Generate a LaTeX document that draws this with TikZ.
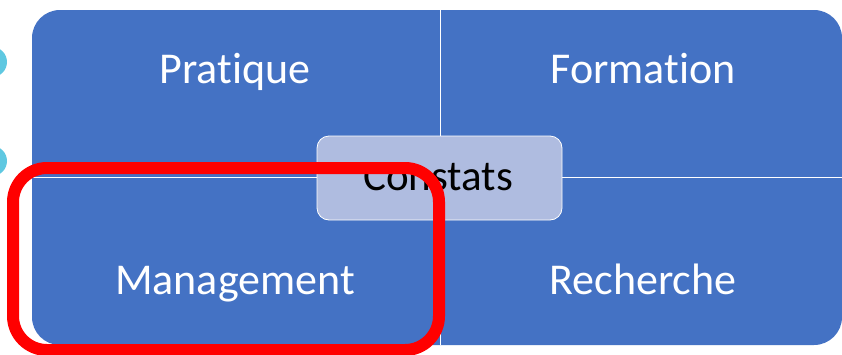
\documentclass[tikz,border=0pt]{standalone}
\usepackage{fontspec}
\setmainfont{Carlito}[Ligatures={NoCommon,NoRequired,NoContextual}]
\usepackage{xcolor}
\usetikzlibrary{positioning}
\definecolor{QuadBlue}{RGB}{68, 114, 196}
\definecolor{HubBlue}{RGB}{175, 188, 224}
\definecolor{MarkRed}{RGB}{255, 0, 0}
\definecolor{DotCyan}{RGB}{95, 200, 225}

\begin{document}
\begin{tikzpicture}[
    x=1pt, y=-1pt,
    grid/.style = {
        rectangle, rounded corners=28pt,
        minimum width=810pt, minimum height=335pt,
        fill=QuadBlue, inner sep=0pt
    },
    divider/.style = {draw=white, line width=1pt},
    quadlabel/.style = {
        anchor=base, text=white, inner sep=0pt,
        font=\fontsize{44}{52}\selectfont
    },
    hub/.style = {
        rectangle, rounded corners=12pt,
        minimum width=245pt, minimum height=84pt,
        draw=white, line width=0.8pt, fill=HubBlue, inner sep=0pt
    },
    hublabel/.style = {
        anchor=base, text=black, inner sep=0pt,
        font=\fontsize{43}{50}\selectfont
    },
    sidedot/.style = {circle, fill=DotCyan, minimum size=30pt, inner sep=0pt},
    highlight/.style = {
        rectangle, rounded corners=34pt,
        minimum width=426pt, minimum height=182pt,
        draw=MarkRed, line width=12pt, inner sep=0pt
    }
]
\clip (0,0) rectangle (842,354);
\fill[white] (0,0) rectangle (842,354);

% ===== SIDE DOTS =====
\node[sidedot] (dot1) at (-8,62) {};
\node[sidedot] (dot2) at (-8,161) {};

% ===== QUADRANTS =====
\node[grid] (grid) at (437,177.5) {};
\draw[divider] ([xshift=3pt]grid.north) -- ([xshift=3pt]grid.south);
\draw[divider] (grid.west) -- (grid.east);

\node[quadlabel] (pratique)   at (235,83)  {Pratique};
\node[quadlabel] (formation)  at (643,83)  {Formation};
\node[quadlabel] (management) at (235,294) {Management};
\node[quadlabel] (recherche)  at (643,294) {Recherche};

% ===== CENTRE =====
\node[hub] (hub) at (439.5,178) {};
\node[hublabel] (constats) at (438,190) {Constats};

% ===== HIGHLIGHT =====
\node[highlight] (focus) at (226,259) {};
\end{tikzpicture}
\end{document}
